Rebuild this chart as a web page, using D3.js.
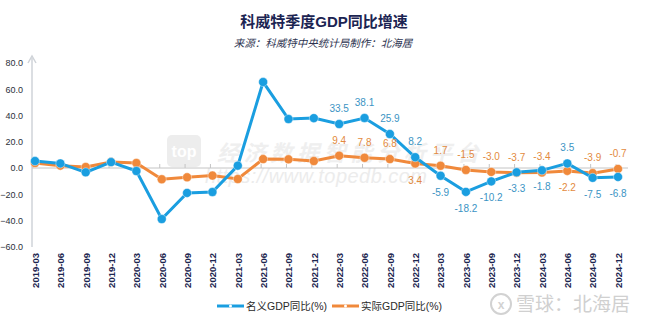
<!DOCTYPE html>
<html lang="zh">
<head>
<meta charset="utf-8">
<style>
  body { margin: 0; background: #fff; }
  text { font-family: "Liberation Sans", Arial, "Noto Sans CJK SC", sans-serif; }
</style>
</head>
<body>
<script src="https://cdn.jsdelivr.net/npm/d3@7"></script>
<script>
// quarters on the x axis
var quarters = ["2019-03","2019-06","2019-09","2019-12","2020-03","2020-06","2020-09","2020-12",
  "2021-03","2021-06","2021-09","2021-12","2022-03","2022-06","2022-09","2022-12",
  "2023-03","2023-06","2023-09","2023-12","2024-03","2024-06","2024-09","2024-12"];

// 名义GDP同比(%)
var nominal = [5.3, 3.5, -3.3, 4.5, -2.3, -38.9, -19.0, -18.3,
  1.8, 65.5, 37.3, 38.0, 33.5, 38.1, 25.9, 8.2,
  -5.9, -18.2, -10.2, -3.3, -1.8, 3.5, -7.5, -6.8];

// 实际GDP同比(%)
var real = [3.8, 1.8, 0.8, 4.6, 3.8, -8.6, -7.1, -5.8,
  -8.4, 6.8, 6.6, 5.3, 9.4, 7.8, 6.8, 3.4,
  1.7, -1.5, -3.0, -3.7, -3.4, -2.2, -3.9, -0.7];

var yTicks = [80, 60, 40, 20, 0, -20, -40, -60];
var firstLabelled = 12; // labels shown from 2022-03 on

var W = 646, H = 323;
var blue = "#1a9ee0", orange = "#f0893b";

var svg = d3.select("body").append("svg")
  .attr("width", W).attr("height", H);

// titles
svg.append("text")
  .attr("x", 324).attr("y", 27)
  .attr("text-anchor", "middle")
  .attr("font-size", 15).attr("font-weight", "bold")
  .attr("fill", "#1b2452")
  .text("科威特季度GDP同比增速");
svg.append("text")
  .attr("x", 323).attr("y", 47)
  .attr("text-anchor", "middle")
  .attr("font-size", 10.5).attr("font-style", "italic")
  .attr("fill", "#2d3350")
  .text("来源：科威特中央统计局制作：北海居");

// scales
var x = d3.scalePoint().domain(quarters).range([35, 618]);
var y = d3.scaleLinear().domain([-60, 80]).range([246.75, 63]);

// watermark behind the chart
var wm = svg.append("g");
wm.append("rect").attr("x", 167).attr("y", 135).attr("width", 34).attr("height", 32)
  .attr("rx", 5).attr("fill", "#ededed");
wm.append("text").attr("x", 184).attr("y", 157).attr("text-anchor", "middle")
  .attr("font-size", 16).attr("font-weight", "bold")
  .attr("font-family", "'Liberation Serif', serif").attr("fill", "#fff").text("top");
wm.append("text").attr("x", 217).attr("y", 161)
  .attr("font-size", 22).attr("font-weight", "bold").attr("font-style", "italic")
  .attr("textLength", 262).attr("fill", "#efefef")
  .text("经济数据智能分析平台");
wm.append("text").attr("x", 205).attr("y", 183)
  .attr("font-size", 20).attr("font-style", "italic")
  .attr("font-family", "'Liberation Serif', serif")
  .attr("textLength", 222).attr("fill", "#ececec")
  .text("https://www.topedb.com");

// y axis
var yAxis = svg.append("g").attr("transform", "translate(32,0)")
  .call(d3.axisLeft(y).tickValues(yTicks).tickSize(0).tickPadding(9)
    .tickFormat(d3.format(".1f")));
yAxis.select(".domain").remove();
yAxis.selectAll("text").attr("font-size", 9).attr("fill", "#2b2f3a")
  .attr("font-family", "'Liberation Sans', Arial, sans-serif");
svg.append("line").attr("x1", 32).attr("x2", 32).attr("y1", 58).attr("y2", 247)
  .attr("stroke", "#cfd3d8").attr("stroke-width", 1.5);
svg.append("path").attr("d", "M28,63 L32,56 L36,63")
  .attr("fill", "none").attr("stroke", "#cfd3d8").attr("stroke-width", 1.5);

// zero line with category ticks
svg.append("line").attr("x1", 32).attr("x2", 628).attr("y1", y(0)).attr("y2", y(0))
  .attr("stroke", "#c4c4c4").attr("stroke-width", 1);
svg.append("g").selectAll("line").data(quarters).enter().append("line")
  .attr("x1", function(d) { return x(d) - 2; }).attr("x2", function(d) { return x(d) - 2; })
  .attr("y1", y(0) - 4).attr("y2", y(0))
  .attr("stroke", "#c4c4c4");

// x axis labels
var xAxis = svg.append("g").attr("transform", "translate(0,250)")
  .call(d3.axisBottom(x).tickSize(0).tickPadding(0));
xAxis.select(".domain").remove();
xAxis.selectAll("text")
  .attr("transform", "rotate(-90)")
  .attr("text-anchor", "end")
  .attr("x", -3).attr("y", 0).attr("dy", "0.35em")
  .attr("font-size", 9.5).attr("font-weight", "bold").attr("fill", "#1d2650");

// series
function drawSeries(values, color) {
  var line = d3.line()
    .x(function(d, i) { return x(quarters[i]); })
    .y(function(d) { return y(d); });
  svg.append("path").datum(values)
    .attr("d", line).attr("fill", "none")
    .attr("stroke", color).attr("stroke-width", 3);
  svg.append("g").selectAll("circle").data(values).enter().append("circle")
    .attr("cx", function(d, i) { return x(quarters[i]); })
    .attr("cy", function(d) { return y(d); })
    .attr("r", 4.5).attr("fill", color)
    .attr("stroke", "#fff").attr("stroke-opacity", 0.5).attr("stroke-width", 0.8);
}
drawSeries(real, orange);
drawSeries(nominal, blue);

// data labels: blue below when negative, orange below only when
// the blue point sits just above it on the positive side
function labels(values, other, color, isBlue) {
  svg.append("g").selectAll("text")
    .data(values.slice(firstLabelled)).enter().append("text")
    .attr("x", function(d, i) { return x(quarters[i + firstLabelled]); })
    .attr("y", function(d, i) {
      var o = other[i + firstLabelled];
      var below = isBlue ? d < 0 : (o >= 0 && o > d && o - d < 6);
      return y(d) + (below ? 20 : -12);
    })
    .attr("text-anchor", "middle")
    .attr("font-size", 10).attr("fill", color)
    .text(function(d) { return d.toFixed(1); });
}
labels(nominal, real, "#3b94c4", true);
labels(real, nominal, "#e38a40", false);

// legend
var legend = [
  {name: "名义GDP同比(%)", color: blue, x: 217},
  {name: "实际GDP同比(%)", color: orange, x: 332}
];
var lg = svg.append("g").selectAll("g").data(legend).enter().append("g")
  .attr("transform", function(d) { return "translate(" + d.x + ",306)"; });
lg.append("line").attr("x1", 0).attr("x2", 27).attr("y1", 0).attr("y2", 0)
  .attr("stroke", function(d) { return d.color; }).attr("stroke-width", 3);
lg.append("circle").attr("cx", 13.5).attr("cy", 0).attr("r", 1.5).attr("fill", "#fff");
lg.append("text").attr("x", 29).attr("y", 4)
  .attr("font-size", 10.5).attr("fill", "#2a2a2a")
  .text(function(d) { return d.name; });

// bottom-right watermark
var xq = svg.append("g").attr("transform", "translate(501,304)");
xq.append("circle").attr("r", 10).attr("fill", "none")
  .attr("stroke", "#d2d2d2").attr("stroke-width", 2);
xq.append("text").attr("text-anchor", "middle").attr("y", 4.5)
  .attr("font-size", 12).attr("font-weight", "bold").attr("fill", "#d2d2d2").text("x");
svg.append("text").attr("x", 516).attr("y", 311)
  .attr("font-size", 19).attr("fill", "#d0d0d0")
  .attr("font-family", "'Noto Sans CJK SC', sans-serif")
  .text("雪球：北海居");
</script>
</body>
</html>
